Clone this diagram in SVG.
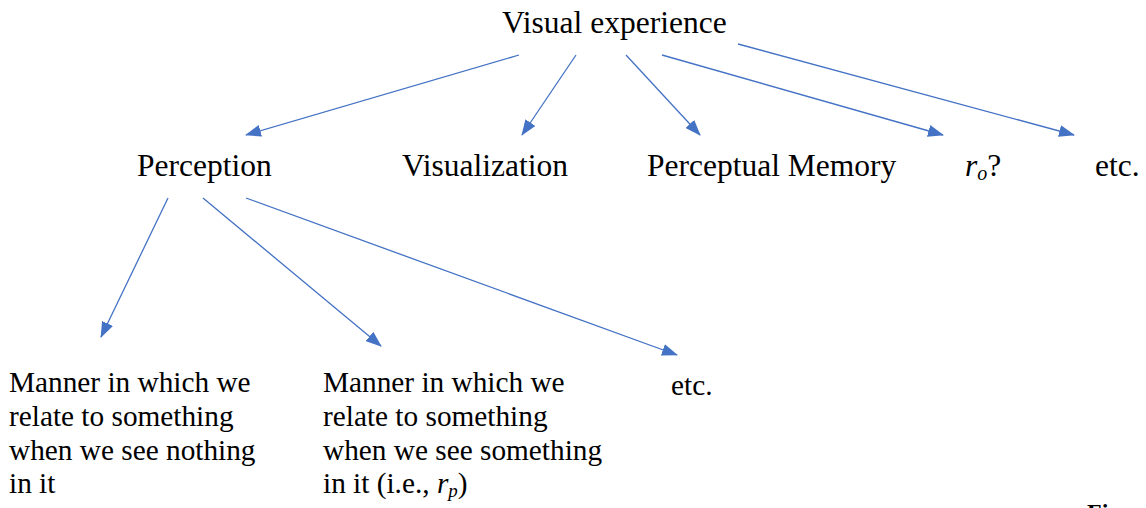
<svg xmlns="http://www.w3.org/2000/svg" width="1146" height="508" viewBox="0 0 1146 508">
  <style>
    .t { font-family: "Liberation Serif", "Times New Roman", serif; fill: #000; }
    .top { font-size: 31.5px; }
    .low { font-size: 29.3px; }
    .edge { stroke: #4472C4; stroke-width: 1.3; fill: none; marker-end: url(#head); }
  </style>
  <defs>
    <marker id="head" viewBox="0 0 16 12" refX="15" refY="6" markerUnits="userSpaceOnUse" markerWidth="16" markerHeight="12" orient="auto">
      <path d="M0,0 L16,6 L0,12 Z" fill="#4472C4"/>
    </marker>
  </defs>
  <rect width="1146" height="508" fill="#fff"/>

  <g id="connectors">
    <line class="edge" x1="519" y1="55" x2="246" y2="135"/>
    <line class="edge" x1="576" y1="55" x2="522" y2="135"/>
    <line class="edge" x1="626" y1="55" x2="700" y2="135"/>
    <line class="edge" x1="662" y1="55" x2="943" y2="135"/>
    <line class="edge" x1="738" y1="44" x2="1074" y2="135"/>
    <line class="edge" x1="168" y1="198" x2="101" y2="337"/>
    <line class="edge" x1="203" y1="198" x2="381" y2="346"/>
    <line class="edge" x1="246" y1="198" x2="677" y2="355"/>
  </g>

  <g id="visual-experience">
    <text class="t top" x="502" y="33">Visual experience</text>
  </g>
  <g id="perception">
    <text class="t top" x="137" y="176">Perception</text>
  </g>
  <g id="visualization">
    <text class="t top" x="402" y="176">Visualization</text>
  </g>
  <g id="perceptual-memory">
    <text class="t top" x="647" y="176">Perceptual Memory</text>
  </g>
  <g id="r-o">
    <text class="t top" x="965" y="176"><tspan font-style="italic">r</tspan><tspan font-style="italic" font-size="20" dy="4">o</tspan><tspan dy="-4">?</tspan></text>
  </g>
  <g id="etc-top">
    <text class="t top" x="1095" y="176">etc.</text>
  </g>

  <g id="nothing-in-it">
    <text class="t low" x="9" y="392">Manner in which we</text>
    <text class="t low" x="9" y="426">relate to something</text>
    <text class="t low" x="9" y="460">when we see nothing</text>
    <text class="t low" x="9" y="493">in it</text>
  </g>
  <g id="something-in-it">
    <text class="t low" x="323" y="392">Manner in which we</text>
    <text class="t low" x="323" y="426">relate to something</text>
    <text class="t low" x="323" y="460">when we see something</text>
    <text class="t low" x="323" y="493">in it (i.e., <tspan font-style="italic">r</tspan><tspan font-style="italic" font-size="19" dy="4">p</tspan><tspan dy="-4">)</tspan></text>
  </g>
  <g id="etc-bottom">
    <text class="t low" x="671" y="395">etc.</text>
  </g>

  <!-- caption running off the lower edge -->
  <g id="caption">
    <text class="t" x="1087" y="520" font-size="24" font-weight="bold">Fi</text>
  </g>
</svg>
